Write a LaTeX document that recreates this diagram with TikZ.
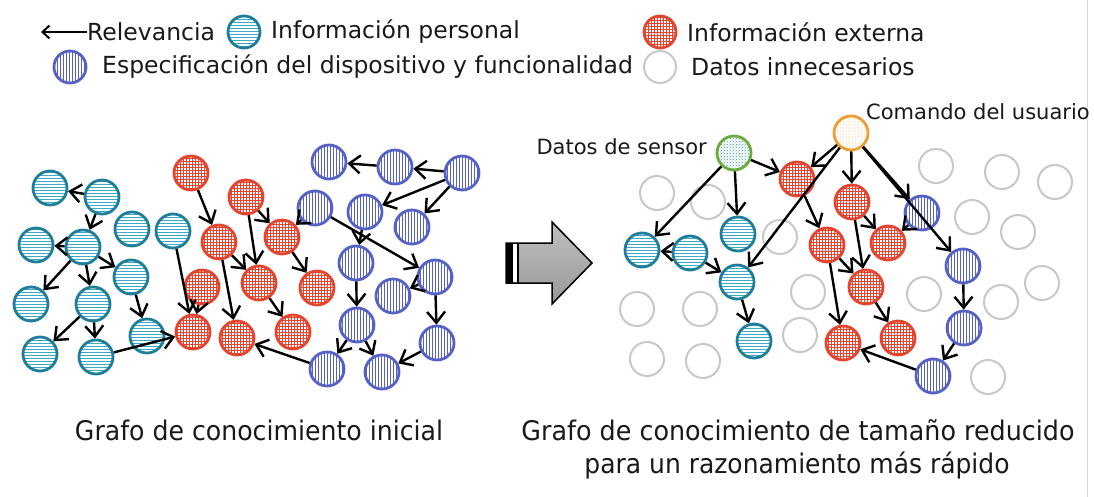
\documentclass[tikz,border=0pt]{standalone}
\usepackage{fontspec}
\setmainfont{DejaVu Sans}
\usepackage{graphicx}
\usetikzlibrary{arrows.meta,patterns}
\definecolor{persC}{HTML}{1F7E9A}
\definecolor{persL}{HTML}{3CA9C8}
\definecolor{extC}{HTML}{E5452E}
\definecolor{specC}{HTML}{5661C6}
\definecolor{sensC}{HTML}{6BAA3C}
\definecolor{sensL}{HTML}{2E9E8C}
\definecolor{cmdC}{HTML}{EE9E32}
\definecolor{unnC}{HTML}{C8C8C8}
\tikzset{
  nd/.style={circle, minimum size=34pt, inner sep=0pt, line width=2.8pt},
  pers/.style={nd, draw=persC, pattern=horizontal lines, pattern color=persL},
  ext/.style={nd, draw=extC, pattern=grid, pattern color=extC},
  spec/.style={nd, draw=specC, pattern=vertical lines, pattern color=specC},
  unn/.style={nd, draw=unnC, line width=2pt},
  sens/.style={nd, draw=sensC, pattern=crosshatch dots, pattern color=sensL},
  cmd/.style={nd, draw=cmdC, pattern=dots, pattern color=cmdC},
  lg/.style={minimum size=32pt},
  rel/.style={-{Straight Barb[length=11pt,width=18pt]}, line width=2.4pt},
  txt/.style={inner sep=0pt, font=\fontsize{23.5}{27}\selectfont, text=black!90},
  lbl/.style={inner sep=0pt, font=\fontsize{21}{24}\selectfont, text=black!90},
}
\begin{document}
\begin{tikzpicture}[x=1pt,y=-1pt]
\useasboundingbox[fill=white] (0,0) rectangle (1094,497);
\draw[black!15, line width=1pt] (1087,0) -- (1087,497);

% ---------- legend ----------
\coordinate (lgA) at (41,32);
\node[txt, anchor=west] (lRel) at (87,32) {Relevancia};
\draw[-{Straight Barb[length=7pt,width=13pt]}, line width=2pt] (lRel.west) -- (lgA);
\node[pers, lg] (lPers) at (244,32) {};
\node[txt, anchor=west] (tPers) at (271,32) {Información personal};
\node[ext, lg] (lExt) at (660,32) {};
\node[txt, anchor=west] (tExt) at (687,32) {Información externa};
\node[spec, lg] (lSpec) at (70,67) {};
\node[txt, anchor=west] (tSpec) at (102,67) {Especificación del dispositivo y funcionalidad};
\node[unn, lg] (lUnn) at (660,67) {};
\node[txt, anchor=west] (tUnn) at (691,67) {Datos innecesarios};

% ---------- left graph ----------
\node[pers] (c1) at (50,188) {};
\node[pers] (c2) at (102,197) {};
\node[pers] (c3) at (36,245) {};
\node[pers] (c4) at (83,247) {};
\node[pers] (c5) at (132,229) {};
\node[pers] (c6) at (173,231) {};
\node[pers] (c7) at (131,277) {};
\node[pers] (c8) at (31,304) {};
\node[pers] (c9) at (93,304) {};
\node[pers] (c10) at (147,336) {};
\node[pers] (c11) at (40,354) {};
\node[pers] (c12) at (96,357) {};

\node[ext] (r1) at (191,173) {};
\node[ext] (r2) at (246,197) {};
\node[ext] (r3) at (219,242) {};
\node[ext] (r4) at (282,237) {};
\node[ext] (r5) at (259,283) {};
\node[ext] (r6) at (202,287) {};
\node[ext] (r7) at (317,288) {};
\node[ext] (r8) at (193,332) {};
\node[ext] (r9) at (237,338) {};
\node[ext] (r10) at (293,332) {};

\node[spec] (b1) at (329,162) {};
\node[spec] (b2) at (395,167) {};
\node[spec] (b3) at (462,173) {};
\node[spec] (b4) at (315,208) {};
\node[spec] (b5) at (365,212) {};
\node[spec] (b6) at (412,227) {};
\node[spec] (b7) at (356,263) {};
\node[spec] (b8) at (435,277) {};
\node[spec] (b9) at (393,296) {};
\node[spec] (b10) at (357,325) {};
\node[spec] (b11) at (437,343) {};
\node[spec] (b12) at (327,369) {};
\node[spec] (b13) at (382,372) {};

\foreach \a/\b in {c2/c1,c2/c4,c4/c3,c4/c7,c4/c9,c4/c8,c9/c11,c9/c12,c7/c10,c12/r8,c6/r8,
  r1/r3,r2/r4,r2/r5,r3/r5,r3/r9,r4/r7,r5/r10,r6/r8,
  b2/b1,b3/b2,b3/b5,b3/b6,b4/r4,b4/b8,b5/b7,b7/b10,b8/b9,b8/b11,b10/b12,b10/b13,b11/b13,b12/r9}
  \draw[rel] (\a) -- (\b);

% ---------- big arrow ----------
\shade[top color=gray!50, bottom color=gray!80, draw=black, line width=1.5pt]
  (506,243) -- (552,243) -- (552,222) -- (592,263) -- (552,304) -- (552,283) -- (506,283) -- cycle;
\fill[black] (506,243) rectangle (513,283);
\fill[white] (513,244) rectangle (517,282);
\fill[black] (517,243) rectangle (519,283);

% ---------- right graph ----------
\foreach \p [count=\i] in {(657,193),(708,202),(780,237),(637,309),(700,309),(647,359),(703,361),(808,292),(800,335),
  (936,166),(1002,172),(1055,182),(972,217),(1018,232),(924,294),(1001,302),(1042,283),(988,377)}
  \node[unn] (g\i) at \p {};

\node[sens] (S) at (734,153) {};
\node[cmd] (U) at (851,133) {};
\node[lbl, anchor=east] (tS) at (707,147) {Datos de sensor};
\node[lbl, anchor=west] (tU) at (866,112) {Comando del usuario};

\node[ext] (rA) at (797,179) {};
\node[ext] (rB) at (852,202) {};
\node[ext] (rE) at (827,245) {};
\node[ext] (rF) at (888,243) {};
\node[ext] (rG) at (866,287) {};
\node[ext] (rH) at (843,343) {};
\node[ext] (rI) at (898,338) {};
\node[spec] (bC) at (922,213) {};
\node[spec] (bD) at (963,266) {};
\node[spec] (bJ) at (964,328) {};
\node[spec] (bK) at (933,376) {};
\node[pers] (y1) at (642,250) {};
\node[pers] (y2) at (690,253) {};
\node[pers] (y3) at (738,234) {};
\node[pers] (y4) at (737,282) {};
\node[pers] (y5) at (754,341) {};

\foreach \a/\b in {S/rA,S/y1,S/y3,y2/y1,y2/y4,y4/y5,U/rA,U/y4,U/rB,U/bC,U/bD,
  rA/rE,rB/rF,rB/rG,rE/rG,rE/rH,rG/rI,bC/rF,bD/bJ,bJ/bK,bK/rH}
  \draw[rel] (\a) -- (\b);

% ---------- captions ----------
\node[inner sep=0pt, text=black!90] (cap1) at (259,430)
  {\resizebox{368pt}{\height}{\fontsize{27}{30}\selectfont Grafo de conocimiento inicial}};
\node[inner sep=0pt, text=black!90] (cap2) at (798,430)
  {\resizebox{553pt}{\height}{\fontsize{27}{30}\selectfont Grafo de conocimiento de tamaño reducido}};
\node[inner sep=0pt, text=black!90] (cap3) at (797,466)
  {\resizebox{425pt}{\height}{\fontsize{27}{30}\selectfont para un razonamiento más rápido}};
\end{tikzpicture}
\end{document}
